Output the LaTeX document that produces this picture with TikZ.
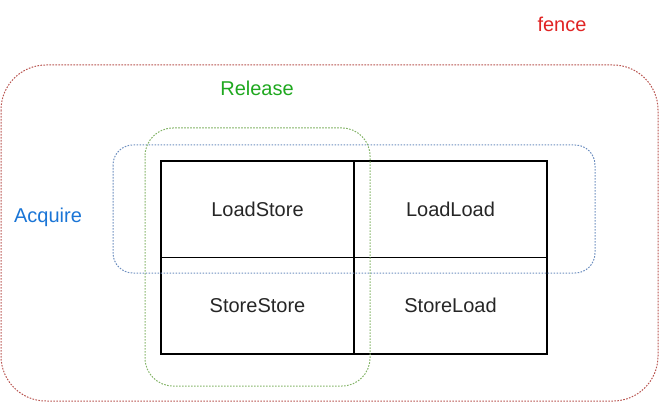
\documentclass[tikz,border=0pt]{standalone}
\usepackage{fontspec}
\setmainfont{Liberation Sans}
\usepackage{xcolor}
\usepackage{tikz}
\usetikzlibrary{positioning}

\definecolor{fencered}{HTML}{B85450}
\definecolor{fencetxt}{HTML}{E02424}
\definecolor{acqblue}{HTML}{6C8EBF}
\definecolor{acqtxt}{HTML}{1A75D6}
\definecolor{relgreen}{HTML}{82B366}
\definecolor{reltxt}{HTML}{1FA81F}

\begin{document}
\begin{tikzpicture}[x=1pt,y=-1pt,font=\fontsize{20}{23}\selectfont,
  region/.style={line width=1pt,dash pattern=on 1.6pt off 1.4pt},
  cell/.style={draw,line width=1.2pt,minimum width=193pt,minimum height=96.5pt,inner sep=0pt,outer sep=0pt,text=black!85}]
\useasboundingbox (0,0) rectangle (660,403);

% --- Table of the four barriers ---
\node[cell] (ls) at (257.5,209.25) {LoadStore};
\node[cell,right=0pt of ls] (ll) {LoadLoad};
\node[cell,below=0pt of ls] (ss) {StoreStore};
\node[cell,below=0pt of ll] (sl) {StoreLoad};

% --- fence: everything ---
\draw[region,fencered,rounded corners=45] (1,65) rectangle (658,401);
\node[text=fencetxt] (fence) at (562,24) {fence};

% --- Acquire: top row ---
\draw[region,acqblue,rounded corners=20] (113,145) rectangle (595,273);
\node[text=acqtxt] (acquire) at (48,217) {Acquire};

% --- Release: left column ---
\draw[region,relgreen,rounded corners=28] (145,128) rectangle (370,386);
\node[text=reltxt] (release) at (257,88) {Release};

\end{tikzpicture}
\end{document}
